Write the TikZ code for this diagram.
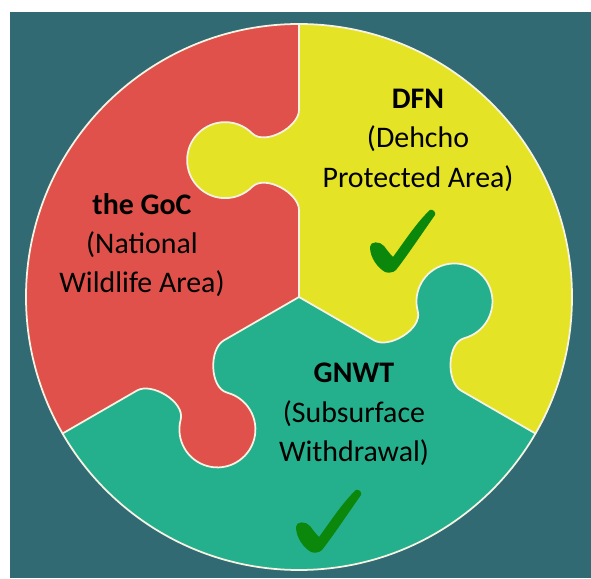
\documentclass[tikz,border=0pt]{standalone}
\usepackage{fontspec}
\setmainfont{Carlito}
\definecolor{backteal}{RGB}{50,106,115}
\definecolor{redpc}{RGB}{223,81,74}
\definecolor{yellowpc}{RGB}{229,227,37}
\definecolor{greenpc}{RGB}{37,176,141}
\definecolor{tickgreen}{RGB}{11,135,11}
\definecolor{seam}{RGB}{246,242,228}

\begin{document}
\begin{tikzpicture}[
  x=0.02cm, y=0.02cm,
  seamline/.style={draw=seam, line width=1pt, line join=round},
  partytext/.style={align=center, inner sep=0pt, anchor=north, font=\fontsize{17}{22.3}\selectfont},
  tickmark/.pic={
    \fill[tickgreen] (0,0) .. controls (-7,4) and (-15,14) .. (-15,25)
      .. controls (-15,31) and (-5,31) .. (-1,26)
      .. controls (2,22) and (5,18) .. (8,15)
      .. controls (19,30) and (32,50) .. (45,62)
      .. controls (48,63) and (51,60) .. (50,57)
      .. controls (38,40) and (22,16) .. (11,2)
      .. controls (8,-1) and (3,-1) .. (0,0) -- cycle;
  }
]
\useasboundingbox (0,0) rectangle (591,578);
\fill[backteal] (10,0) rectangle (591,566);
\coordinate (C) at (299,281);

% three pieces
\fill[greenpc] (C) circle[radius=273];
\fill[redpc] (C) -- ++(90:273) arc[start angle=90, end angle=210, radius=273] -- cycle;
\fill[yellowpc] (C) -- ++(-30:273) arc[start angle=-30, end angle=90, radius=273] -- cycle;

% knobs
\foreach \ang/\col in {90/yellowpc, 210/redpc, 330/greenpc} {
  \begin{scope}[shift={(C)}, rotate=\ang]
    \fill[\col] (87,0) .. controls (104,0) and (123,34) .. (110,47)
      arc[start angle=225, end angle=-45, radius=38]
      .. controls (151,34) and (170,0) .. (187,0) -- (187,-3) -- (87,-3) -- cycle;
  \end{scope}
}

% seams
\foreach \ang in {90,210,330} {
  \begin{scope}[shift={(C)}, rotate=\ang]
    \draw[seamline] (0,0) -- (87,0) .. controls (104,0) and (123,34) .. (110,47)
      arc[start angle=225, end angle=-45, radius=38]
      .. controls (151,34) and (170,0) .. (187,0) -- (273,0);
  \end{scope}
}
\draw[seamline] (C) circle[radius=273];

\node[partytext] (goc) at (142,385) {\textbf{the GoC}\\(National\\Wildlife Area)};
\node[partytext] (dfn) at (418,489) {\textbf{DFN}\\(Dehcho\\Protected Area)};
\node[partytext] (gnwt) at (354,215) {\textbf{GNWT}\\(Subsurface\\Withdrawal)};

\pic at (385,306) {tickmark};
\pic at (311,26) {tickmark};
\end{tikzpicture}
\end{document}
